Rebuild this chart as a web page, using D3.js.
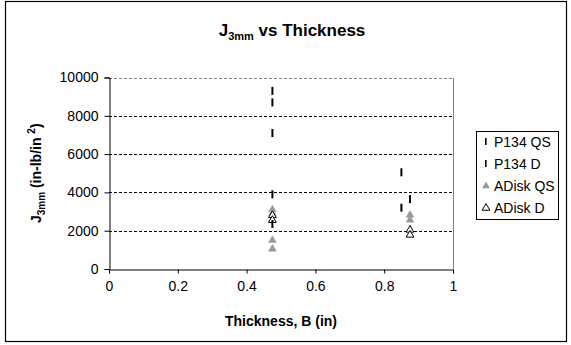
<!DOCTYPE html>
<html><head><meta charset="utf-8">
<script src="https://cdn.jsdelivr.net/npm/d3@7"></script>
<style>
body{margin:0;background:#fff;}
svg{display:block;font-family:"Liberation Sans",Arial,sans-serif;}
</style></head><body>
<svg id="c" width="571" height="345"></svg>
<script>
// ---- data ----
const xTicks = [0, 0.2, 0.4, 0.6, 0.8, 1];
const yTicks = [0, 2000, 4000, 6000, 8000, 10000];
const seriesNames = ["P134 QS", "P134 D", "ADisk QS", "ADisk D"];
const p134QS_x = [0.475, 0.475, 0.475, 0.85, 0.85];
const p134QS_y = [9300, 8700, 7100, 5050, 3200];
const p134D_x = [0.475, 0.475, 0.875];
const p134D_y = [3900, 2350, 3650];
const adiskQS_x = [0.475, 0.475, 0.475, 0.475, 0.875, 0.875];
const adiskQS_y = [3100, 2900, 1500, 1050, 2820, 2560];
const adiskD_x = [0.475, 0.475, 0.875, 0.875];
const adiskD_y = [2800, 2550, 2040, 1780];

const svg = d3.select("#c");
const plot = {l: 109, r: 453, t: 77.5, b: 269};

// outer frame
svg.append("rect").attr("x", 5.5).attr("y", 1.5).attr("width", 561).attr("height", 340)
  .attr("fill", "#fff").attr("stroke", "#000").attr("stroke-width", 1.2);

const x = d3.scaleLinear().domain([0, 1]).range([plot.l, plot.r]);
const y = d3.scaleLinear().domain([0, 10000]).range([plot.b, plot.t]);

// gridlines
svg.append("g").selectAll("line").data(yTicks.filter(d => d > 0)).join("line")
  .attr("x1", plot.l).attr("x2", plot.r)
  .attr("y1", d => Math.round(y(d)) + 0.5).attr("y2", d => Math.round(y(d)) + 0.5)
  .attr("stroke", d => d === 10000 ? "#808080" : "#000")
  .attr("stroke-dasharray", "3,2").attr("stroke-width", 1);

// plot area border (gray, right side)
svg.append("line").attr("x1", plot.r + 0.5).attr("x2", plot.r + 0.5)
  .attr("y1", Math.round(plot.t)).attr("y2", plot.b)
  .attr("stroke", "#808080").attr("stroke-width", 1);

// axes
const xAxis = d3.axisBottom(x).tickValues(xTicks).tickFormat(d => d).tickSizeOuter(0).tickSize(4).tickPadding(8);
const gx = svg.append("g").attr("transform", `translate(0,${plot.b + 0.5})`).call(xAxis);
const yAxis = d3.axisLeft(y).tickValues(yTicks).tickFormat(d => d).tickSizeOuter(0).tickSize(5).tickPadding(6);
const gy = svg.append("g").attr("transform", `translate(${plot.l + 0.5},0)`).call(yAxis);
[gx, gy].forEach(g => {
  g.selectAll("path.domain").attr("stroke", "#000");
  g.selectAll("line").attr("stroke", "#000");
  g.selectAll("text").attr("font-size", 14).attr("fill", "#000")
    .attr("font-family", "Liberation Sans, Arial, sans-serif");
});

// marks
const tri = d3.symbol().type(d3.symbolTriangle).size(26);
function dashes(xs, ys) {
  svg.append("g").selectAll("rect").data(xs.map((v, i) => [v, ys[i]])).join("rect")
    .attr("x", d => x(d[0]) - 1).attr("y", d => y(d[1]) - 4)
    .attr("width", 2).attr("height", 8).attr("fill", "#000");
}
dashes(p134QS_x, p134QS_y);
svg.append("g").selectAll("path").data(adiskQS_x.map((v, i) => [v, adiskQS_y[i]])).join("path")
  .attr("d", tri).attr("transform", d => `translate(${x(d[0])},${y(d[1])})`)
  .attr("fill", "#999999").attr("stroke", "#999999").attr("stroke-width", 0.5);
svg.append("g").selectAll("path").data(adiskD_x.map((v, i) => [v, adiskD_y[i]])).join("path")
  .attr("d", tri).attr("transform", d => `translate(${x(d[0])},${y(d[1])})`)
  .attr("fill", "#fff").attr("stroke", "#000").attr("stroke-width", 1);
dashes(p134D_x, p134D_y);

// title
const title = svg.append("text").attr("x", 292).attr("y", 36).attr("text-anchor", "middle")
  .attr("font-size", 17).attr("font-weight", "bold");
title.append("tspan").text("J");
title.append("tspan").attr("font-size", 11).attr("dy", 4).text("3mm");
title.append("tspan").attr("dy", -4).text(" vs Thickness");

// x title
svg.append("text").attr("x", 281).attr("y", 326).attr("text-anchor", "middle")
  .attr("font-size", 14).attr("font-weight", "bold").text("Thickness, B (in)");

// y title
const yt = svg.append("text").attr("transform", `translate(41,${(plot.t + plot.b) / 2}) rotate(-90)`)
  .attr("text-anchor", "middle").attr("font-size", 14).attr("font-weight", "bold");
yt.append("tspan").text("J");
yt.append("tspan").attr("font-size", 10).attr("dy", 4).text("3mm");
yt.append("tspan").attr("dy", -4).text(" (in-lb/in ");
yt.append("tspan").attr("font-size", 10).attr("dy", -6).text("2");
yt.append("tspan").attr("dy", 6).text(")");

// legend
const lg = svg.append("g");
lg.append("rect").attr("x", 476.5).attr("y", 131.5).attr("width", 82).attr("height", 88)
  .attr("fill", "#fff").attr("stroke", "#000").attr("stroke-width", 1);
const rowY = [142, 164, 186, 208];
seriesNames.forEach((name, i) => {
  const cy = rowY[i], cx = 486;
  if (i < 2) {
    lg.append("rect").attr("x", cx - 1).attr("y", cy - 4).attr("width", 1.6).attr("height", 7).attr("fill", "#000");
  } else if (i === 2) {
    lg.append("path").attr("d", tri).attr("transform", `translate(${cx},${cy})`).attr("fill", "#999");
  } else {
    lg.append("path").attr("d", tri).attr("transform", `translate(${cx},${cy})`).attr("fill", "#fff").attr("stroke", "#000");
  }
  lg.append("text").attr("x", 494).attr("y", cy + 5).attr("font-size", 14).text(name);
});
</script></body></html>
